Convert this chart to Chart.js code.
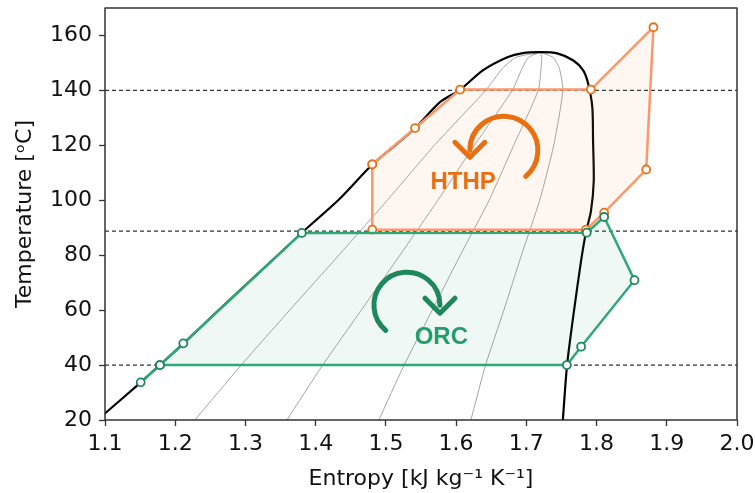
<!DOCTYPE html>
<html>
<head>
<meta charset="utf-8">
<script src="https://cdn.jsdelivr.net/npm/chart.js@4.4.1/dist/chart.umd.min.js"></script>
<style>
  html, body { margin: 0; padding: 0; background: #fff; }
  #wrap { width: 755px; height: 493px; }
</style>
</head>
<body>
<div id="wrap"><canvas id="myChart" width="755" height="493"></canvas></div>
<script>
// saturation dome (liquid side -> critical point -> vapour side)
var domeS = [1.089, 1.151, 1.178, 1.212, 1.262, 1.346, 1.380, 1.432, 1.481, 1.513, 1.542, 1.577, 1.606, 1.638, 1.673, 1.695, 1.720, 1.744, 1.767, 1.781, 1.788, 1.794, 1.795, 1.796, 1.792, 1.785, 1.778, 1.768, 1.758, 1.752];
var domeT = [20, 33.7, 40, 47.9, 60, 80, 88.1, 100, 113.1, 120, 126.3, 135.7, 140.3, 147.3, 152.1, 153.6, 153.9, 153.5, 150.9, 147.3, 142.5, 133.8, 121.8, 107, 96, 88.5, 78, 60, 40, 20];

// vapour quality lines 0.2 / 0.4 / 0.6 / 0.8
var qualT = [20, 40, 60, 80, 100, 120, 140, 148, 152, 153.9];
var qual02 = [1.228, 1.294, 1.363, 1.433, 1.502, 1.569, 1.642, 1.666, 1.685, 1.720];
var qual04 = [1.359, 1.410, 1.465, 1.520, 1.574, 1.626, 1.680, 1.694, 1.703, 1.720];
var qual06 = [1.490, 1.526, 1.566, 1.606, 1.647, 1.682, 1.717, 1.721, 1.722, 1.720];
var qual08 = [1.621, 1.642, 1.668, 1.693, 1.719, 1.739, 1.752, 1.747, 1.738, 1.720];

// heat pump cycle
var hthpS = [1.4806, 1.5416, 1.6057, 1.7919, 1.881, 1.8707, 1.8108, 1.785, 1.4806, 1.4806];
var hthpT = [113.1, 126.3, 140.3, 140.3, 163.0, 111.2, 95.5, 89.3, 89.3, 113.1];

// organic rankine cycle
var orcS = [1.1508, 1.1783, 1.2115, 1.3802, 1.786, 1.8108, 1.854, 1.778, 1.7577, 1.1783];
var orcT = [33.7, 40, 47.9, 88.1, 88.2, 93.9, 70.9, 46.7, 40, 40];

// dashed temperature levels
var levelT = [140, 88.8, 40];

var xTicks = [1.1, 1.2, 1.3, 1.4, 1.5, 1.6, 1.7, 1.8, 1.9, 2.0];
var yTicks = [20, 40, 60, 80, 100, 120, 140, 160];

function pts(xs, ys) {
    var out = [];
    for (var i = 0; i < xs.length; i++) {
        out.push({x: xs[i], y: ys[i]});
    }
    return out;
}

Chart.defaults.font.family = "'DejaVu Sans', sans-serif";
Chart.defaults.color = '#111';

var datasets = [];

// ORC on top of HTHP
datasets.push({
    data: pts(orcS, orcT),
    showLine: true,
    borderColor: 'rgb(46,168,120)',
    borderWidth: 2.5,
    backgroundColor: 'rgba(46,168,120,0.08)',
    fill: 'shape',
    pointRadius: 4,
    pointBorderWidth: 1.8,
    pointBackgroundColor: '#fff',
    pointBorderColor: 'rgb(30,135,92)'
});
datasets.push({
    data: pts(hthpS, hthpT),
    showLine: true,
    borderColor: 'rgb(250,152,108)',
    borderWidth: 2.5,
    backgroundColor: 'rgba(248,150,100,0.09)',
    fill: 'shape',
    pointRadius: 4,
    pointBorderWidth: 1.8,
    pointBackgroundColor: '#fff',
    pointBorderColor: 'rgb(232,112,22)'
});
datasets.push({
    data: pts(domeS, domeT),
    showLine: true,
    borderColor: '#000',
    borderWidth: 2.2,
    tension: 0.25,
    pointRadius: 0,
    fill: false
});
[qual02, qual04, qual06, qual08].forEach(function (q) {
    datasets.push({
        data: pts(q, qualT),
        showLine: true,
        borderColor: '#9a9a9a',
        borderWidth: 0.9,
        tension: 0.2,
        pointRadius: 0,
        fill: false
    });
});
levelT.forEach(function (t) {
    datasets.push({
        data: [{x: 1.1, y: t}, {x: 2.0, y: t}],
        showLine: true,
        borderColor: '#333',
        borderWidth: 1.2,
        borderDash: [4, 3],
        pointRadius: 0,
        fill: false
    });
});

// plot frame, cycle arrows and labels
var decor = {
    id: 'decor',
    afterDatasetsDraw: function (chart) {
        var c = chart.ctx;
        var xs = chart.scales.x, ys = chart.scales.y;
        c.save();
        c.lineCap = 'round';
        c.lineJoin = 'round';

        // HTHP: counter-clockwise arrow
        var hx = xs.getPixelForValue(1.668), hy = ys.getPixelForValue(118.2), hr = 34;
        c.strokeStyle = 'rgb(232,112,18)';
        c.lineWidth = 5;
        c.beginPath();
        c.arc(hx, hy, hr, 50 * Math.PI / 180, Math.PI, true);
        c.stroke();
        c.beginPath();
        c.moveTo(hx - hr - 15, hy - 8);
        c.lineTo(hx - hr, hy + 7);
        c.lineTo(hx - hr + 15, hy - 8);
        c.stroke();

        // ORC: clockwise arrow
        var ox = xs.getPixelForValue(1.530), oy = ys.getPixelForValue(61.8), orr = 33;
        c.strokeStyle = 'rgb(30,135,92)';
        c.beginPath();
        c.arc(ox, oy, orr, 130 * Math.PI / 180, 2 * Math.PI, false);
        c.stroke();
        c.beginPath();
        c.moveTo(ox + orr - 15, oy - 7);
        c.lineTo(ox + orr, oy + 8);
        c.lineTo(ox + orr + 15, oy - 7);
        c.stroke();

        c.font = "bold 24px 'Liberation Sans', Arial, sans-serif";
        c.textAlign = 'center';
        c.textBaseline = 'middle';
        c.fillStyle = 'rgb(232,112,18)';
        c.fillText('HTHP', xs.getPixelForValue(1.610), ys.getPixelForValue(106.5));
        c.fillStyle = 'rgb(34,158,106)';
        c.fillText('ORC', xs.getPixelForValue(1.579), ys.getPixelForValue(50));

        var a = chart.chartArea;
        c.strokeStyle = '#333';
        c.lineWidth = 1.5;
        c.lineCap = 'butt';
        c.strokeRect(a.left, a.top, a.right - a.left, a.bottom - a.top);
        c.restore();
    }
};

var ctx = document.getElementById('myChart').getContext('2d');
var myChart = new Chart(ctx, {
    type: 'scatter',
    data: {datasets: datasets},
    options: {
        responsive: false,
        animation: false,
        layout: {padding: {top: 8, right: 18, left: 0, bottom: 0}},
        plugins: {legend: {display: false}, tooltip: {enabled: false}},
        scales: {
            x: {
                type: 'linear',
                min: 1.1,
                max: 2.0,
                afterFit: function (s) { s.height = 73; s.paddingLeft = 0; s.paddingRight = 0; },
                afterBuildTicks: function (s) { s.ticks = xTicks.map(function (v) { return {value: v}; }); },
                ticks: {
                    font: {size: 22},
                    color: '#111',
                    padding: 5,
                    maxRotation: 0,
                    autoSkip: false,
                    callback: function (v) { return Number(v).toFixed(1); }
                },
                grid: {drawOnChartArea: false, drawTicks: true, tickLength: 6, color: '#333', tickWidth: 1.3},
                border: {display: false},
                title: {display: true, text: 'Entropy [kJ kg\u207B\u00B9 K\u207B\u00B9]', font: {size: 22}, color: '#111', padding: {bottom: 1}}
            },
            y: {
                type: 'linear',
                min: 20,
                max: 170,
                afterFit: function (s) { s.width = 105; s.paddingTop = 0; s.paddingBottom = 0; },
                afterBuildTicks: function (s) { s.ticks = yTicks.map(function (v) { return {value: v}; }); },
                ticks: {
                    font: {size: 22},
                    color: '#111',
                    padding: 7,
                    autoSkip: false
                },
                grid: {drawOnChartArea: false, drawTicks: true, tickLength: 6, color: '#333', tickWidth: 1.3},
                border: {display: false},
                title: {display: true, text: 'Temperature [\u1D52C]', font: {size: 22}, color: '#111', padding: {top: 12}}
            }
        }
    },
    plugins: [decor]
});
</script>
</body>
</html>
